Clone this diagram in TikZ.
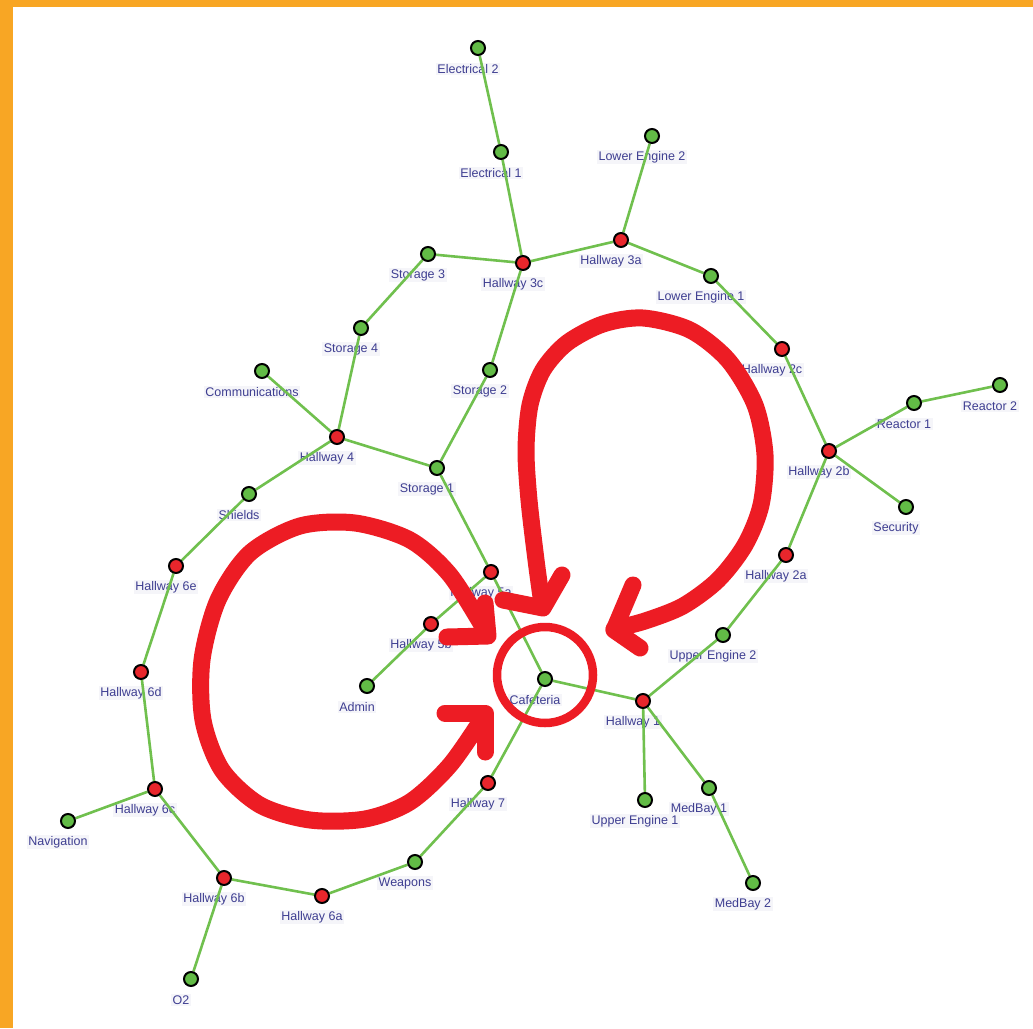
\documentclass[tikz,border=0pt]{standalone}
\usepackage{fontspec}
\setmainfont{Liberation Sans}
\definecolor{gfill}{RGB}{98,187,70}
\definecolor{rfill}{RGB}{232,38,44}
\definecolor{edgec}{RGB}{112,192,78}
\definecolor{lblc}{RGB}{62,62,145}
\definecolor{annotred}{RGB}{237,28,36}
\definecolor{framec}{RGB}{248,166,36}
\definecolor{lblbg}{RGB}{245,245,249}
\pgfdeclarelayer{bgl}
\pgfdeclarelayer{lbl}
\pgfdeclarelayer{edg}
\pgfsetlayers{bgl,lbl,edg,main}
\newcommand\mkroom[5]{\node[#4] (#1) at (#2,#3) {};
  \begin{pgfonlayer}{lbl}\node[lbl] (#1l) at (#2-10,#3+21) {#5};\end{pgfonlayer}}
\begin{document}
\begin{tikzpicture}[x=1pt,y=-1pt,
  room/.style={circle, draw=black, line width=2pt, minimum size=14pt, inner sep=0pt},
  gr/.style={room, fill=gfill},
  rd/.style={room, fill=rfill},
  lbl/.style={text=lblc, font=\fontsize{12.5}{14}\selectfont, fill=lblbg, inner sep=1.5pt},
  link/.style={draw=edgec, line width=2.6pt},
  annot/.style={draw=annotred, line width=17pt, line cap=round, line join=round}]
\useasboundingbox (0,0) rectangle (1033,1028);
\begin{pgfonlayer}{bgl}
\fill[white] (0,0) rectangle (1033,1028);
\fill[framec] (0,0) rectangle (1033,7);
\fill[framec] (0,0) rectangle (13,1028);
\end{pgfonlayer}

\mkroom{elec2}{478}{48}{gr}{Electrical 2}
\mkroom{elec1}{501}{152}{gr}{Electrical 1}
\mkroom{le2}{652}{136}{gr}{Lower Engine 2}
\mkroom{h3c}{523}{263}{rd}{Hallway 3c}
\mkroom{h3a}{621}{240}{rd}{Hallway 3a}
\mkroom{st3}{428}{254}{gr}{Storage 3}
\mkroom{le1}{711}{276}{gr}{Lower Engine 1}
\mkroom{st4}{361}{328}{gr}{Storage 4}
\mkroom{st2}{490}{370}{gr}{Storage 2}
\mkroom{h2c}{782}{349}{rd}{Hallway 2c}
\mkroom{comm}{262}{371}{gr}{Communications}
\mkroom{r1}{914}{403}{gr}{Reactor 1}
\mkroom{r2}{1000}{385}{gr}{Reactor 2}
\mkroom{h4}{337}{437}{rd}{Hallway 4}
\mkroom{h2b}{829}{451}{rd}{Hallway 2b}
\mkroom{st1}{437}{468}{gr}{Storage 1}
\mkroom{shl}{249}{494}{gr}{Shields}
\mkroom{sec}{906}{507}{gr}{Security}
\mkroom{h6e}{176}{566}{rd}{Hallway 6e}
\mkroom{h5a}{491}{572}{rd}{Hallway 5a}
\mkroom{h2a}{786}{555}{rd}{Hallway 2a}
\mkroom{h5b}{431}{624}{rd}{Hallway 5b}
\mkroom{ue2}{723}{635}{gr}{Upper Engine 2}
\mkroom{h6d}{141}{672}{rd}{Hallway 6d}
\mkroom{adm}{367}{686}{gr}{Admin}
\mkroom{caf}{545}{679}{gr}{Cafeteria}
\mkroom{h1}{643}{701}{rd}{Hallway 1}
\mkroom{h7}{488}{783}{rd}{Hallway 7}
\mkroom{h6c}{155}{789}{rd}{Hallway 6c}
\mkroom{mb1}{709}{788}{gr}{MedBay 1}
\mkroom{ue1}{645}{800}{gr}{Upper Engine 1}
\mkroom{nav}{68}{821}{gr}{Navigation}
\mkroom{wpn}{415}{862}{gr}{Weapons}
\mkroom{h6b}{224}{878}{rd}{Hallway 6b}
\mkroom{h6a}{322}{896}{rd}{Hallway 6a}
\mkroom{mb2}{753}{883}{gr}{MedBay 2}
\mkroom{o2}{191}{979}{gr}{O2}

\begin{pgfonlayer}{edg}
\draw[link] (elec2) -- (elec1);
\draw[link] (elec1) -- (h3c);
\draw[link] (h3c) -- (st3);
\draw[link] (h3c) -- (h3a);
\draw[link] (h3c) -- (st2);
\draw[link] (h3a) -- (le2);
\draw[link] (h3a) -- (le1);
\draw[link] (le1) -- (h2c);
\draw[link] (h2c) -- (h2b);
\draw[link] (h2b) -- (r1);
\draw[link] (r1) -- (r2);
\draw[link] (h2b) -- (sec);
\draw[link] (h2b) -- (h2a);
\draw[link] (h2a) -- (ue2);
\draw[link] (ue2) -- (h1);
\draw[link] (h1) -- (caf);
\draw[link] (h1) -- (ue1);
\draw[link] (h1) -- (mb1);
\draw[link] (mb1) -- (mb2);
\draw[link] (st3) -- (st4);
\draw[link] (st4) -- (h4);
\draw[link] (h4) -- (comm);
\draw[link] (h4) -- (st1);
\draw[link] (h4) -- (shl);
\draw[link] (st2) -- (st1);
\draw[link] (st1) -- (h5a);
\draw[link] (h5a) -- (caf);
\draw[link] (h5a) -- (h5b);
\draw[link] (h5b) -- (adm);
\draw[link] (shl) -- (h6e);
\draw[link] (h6e) -- (h6d);
\draw[link] (h6d) -- (h6c);
\draw[link] (h6c) -- (nav);
\draw[link] (h6c) -- (h6b);
\draw[link] (h6b) -- (o2);
\draw[link] (h6b) -- (h6a);
\draw[link] (h6a) -- (wpn);
\draw[link] (wpn) -- (h7);
\draw[link] (h7) -- (caf);
\end{pgfonlayer}

% red annotations
\draw[annot] plot[smooth] coordinates {(486,632) (450,575) (410,540) (355,523) (300,526) (250,553) (218,600) (202,660) (203,720) (222,770) (260,805) (310,820) (365,819) (410,802) (450,765) (484,716)};
\draw[annot] (485,603) -- (488,636) -- (447,637);
\draw[annot] (445,713) -- (485,713) -- (485,752);
\draw[annot] plot[smooth] coordinates {(542,604) (536,560) (529,500) (526,450) (530,405) (543,370) (567,343) (603,324) (643,318) (690,330) (728,360) (755,405) (765,455) (761,505) (745,545) (718,580) (683,606) (645,621) (614,629)};
\draw[annot] (503,600) -- (543,608) -- (562,575);
\draw[annot] (633,585) -- (614,630) -- (640,648);
\draw[draw=annotred, line width=8.5pt] (545,675) circle[radius=48pt];
\end{tikzpicture}
\end{document}
